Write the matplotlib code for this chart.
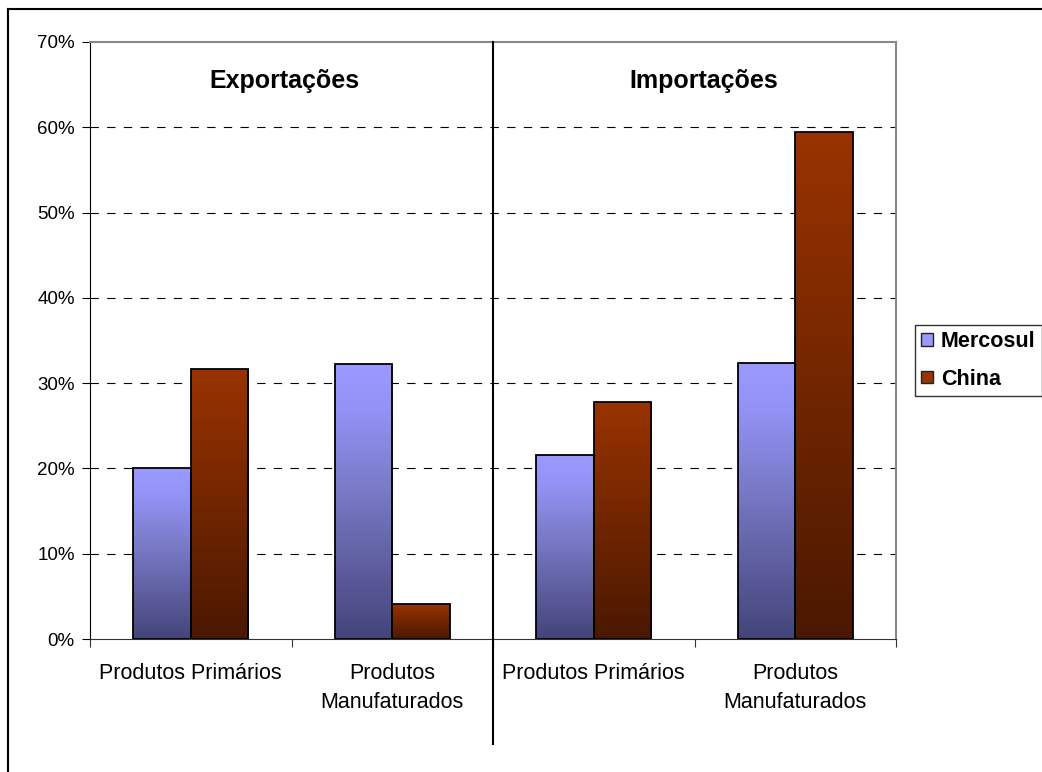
import numpy as np
import matplotlib
matplotlib.use("Agg")
import matplotlib.pyplot as plt
from matplotlib.colors import LinearSegmentedColormap
from matplotlib.lines import Line2D
from matplotlib.patches import Patch

plt.rcParams["font.family"] = ["Liberation Sans", "DejaVu Sans"]
plt.rcParams["lines.scale_dashes"] = False

# dados
categorias = ["Produtos Primários", "Produtos\nManufaturados",
              "Produtos Primários", "Produtos\nManufaturados"]
grupos = ["Exportações", "Importações"]
mercosul = [20.0, 32.2, 21.6, 32.4]
china = [31.6, 4.1, 27.8, 59.4]
series = ["Mercosul", "China"]

# gradientes (topo claro -> base escura)
cmap_m = LinearSegmentedColormap.from_list(
    "merc", [(0, "#44447a"), (0.55, "#7a7ac8"), (0.85, "#9494f8"), (1, "#9999ff")])
cmap_c = LinearSegmentedColormap.from_list(
    "chn", [(0, "#4a1800"), (1, "#993300")])

fig = plt.figure(figsize=(10.42, 7.72), dpi=100)
ax = fig.add_axes([90 / 1042, 133 / 772, 806 / 1042, 597 / 772])

x = np.arange(len(categorias))
w = 1 / 3.5  # gap 150%

grad = np.linspace(0, 1, 256).reshape(-1, 1)
for vals, off, cmap in [(mercosul, -w / 2, cmap_m), (china, w / 2, cmap_c)]:
    bars = ax.bar(x + off, vals, width=w, color="none", edgecolor="black",
                  linewidth=1.3, zorder=4)
    for b in bars:
        x0, y0 = b.get_x(), b.get_y()
        im = ax.imshow(grad, cmap=cmap, origin="lower", aspect="auto",
                       extent=[x0, x0 + b.get_width(), y0, y0 + b.get_height()],
                       zorder=3)
        im.set_clip_path(b)

ax.set_xlim(-0.5, 3.5)
ax.set_ylim(0, 70)

# grade
for v in range(10, 70, 10):
    ax.axhline(v, color="black", lw=0.8, ls=(0, (6, 6)), zorder=1)

ax.set_yticks(range(0, 80, 10))
ax.set_yticklabels([f"{v}%" for v in range(0, 80, 10)], fontsize=13.5)
ax.set_xticks([-0.5, 0.5, 1.5, 2.5, 3.5])
ax.set_xticklabels([])
ax.set_xticks(x, minor=True)
ax.set_xticklabels(categorias, minor=True, fontsize=15.5, linespacing=1.5)
ax.tick_params(axis="x", which="minor", length=0, pad=17)
ax.tick_params(axis="x", which="major", direction="out", length=6, color="#333333")
ax.tick_params(axis="y", direction="out", length=6, pad=5)

ax.spines["left"].set_color("black")
ax.spines["bottom"].set_color("#333333")
ax.spines["top"].set_color("#888888")
ax.spines["right"].set_color("#888888")
ax.spines["right"].set_linewidth(1.5)
ax.spines["top"].set_linewidth(1.5)

# separador entre exportações e importações
ax.add_line(Line2D([1.5, 1.5], [70, -12.3], color="black", lw=1.5,
                   clip_on=False, zorder=5))

ax.text(0.463, 65.4, grupos[0], ha="center", va="center",
        fontsize=18, fontweight="bold")
ax.text(2.547, 65.4, grupos[1], ha="center", va="center",
        fontsize=18, fontweight="bold")

handles = [Patch(facecolor="#9999ff", edgecolor="#222222"),
           Patch(facecolor="#993300", edgecolor="#222222")]
leg = fig.legend(handles, series, loc="upper left",
                 bbox_to_anchor=(915 / 1042, 1 - 325 / 772),
                 prop={"size": 15.5, "weight": "bold"}, frameon=True,
                 fancybox=False, edgecolor="black", handlelength=0.55,
                 handleheight=0.55, handletextpad=0.35, borderpad=0.3,
                 labelspacing=0.75, borderaxespad=0)
leg.get_frame().set_linewidth(1.0)

# moldura externa
fig.add_artist(Line2D([8 / 1042, 1], [1 - 9 / 772, 1 - 9 / 772],
                      color="black", lw=1.5, transform=fig.transFigure))
fig.add_artist(Line2D([8 / 1042, 8 / 1042], [0, 1 - 9 / 772],
                      color="black", lw=1.5, transform=fig.transFigure))

fig.savefig("out.png", dpi=100)
